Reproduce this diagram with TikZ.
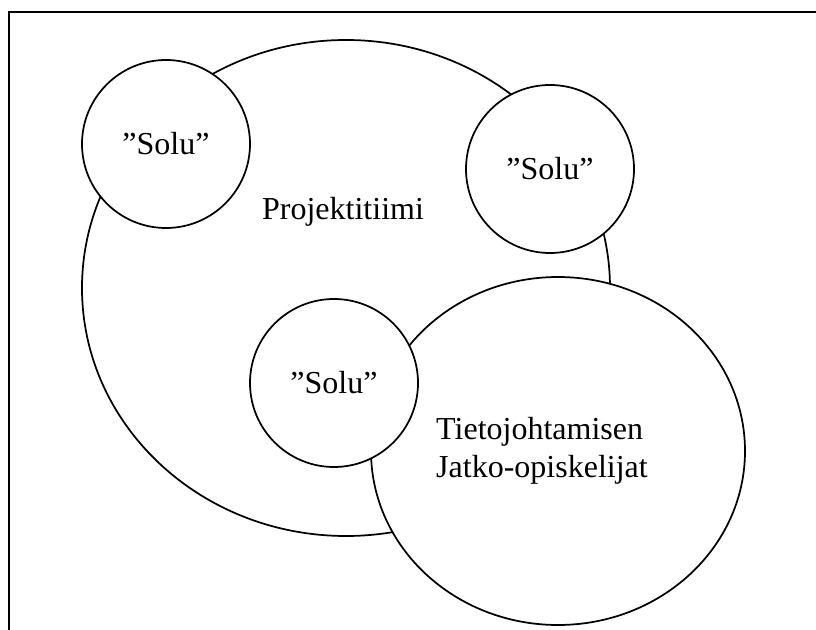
\documentclass[tikz,border=0pt]{standalone}
\usepackage{fontspec}
\setmainfont{Liberation Serif}
\usetikzlibrary{shapes.geometric}
\begin{document}
\begin{tikzpicture}[x=0.75pt,y=-0.75pt,
  ring/.style={draw=black,line width=1.3pt,fill=white,inner sep=0pt,outer sep=0pt},
  solu/.style={ring,circle,minimum size=126pt},
  lbl/.style={font=\fontsize{24pt}{28.5pt}\selectfont,inner sep=0pt}]
\useasboundingbox (0,0) rectangle (816,630);
\clip (0,0) rectangle (816,630);
\fill[white] (0,0) rectangle (816,630);
\draw[line width=1.5pt] (9,650) -- (9,12) -- (840,12);
\node[ring,ellipse,minimum width=396pt,minimum height=372pt] (proj) at (346,288) {};
\node[lbl] (projlbl) at (343,212) {Projektitiimi};
\node[solu,lbl] (solu1) at (166,144) {”Solu”};
\node[solu,lbl] (solu2) at (550,169) {”Solu”};
\node[ring,ellipse,minimum width=280.5pt,minimum height=261pt] (tieto) at (558,451) {};
\node[lbl,align=left] (tietolbl) at (542,451) {Tietojohtamisen\\Jatko-opiskelijat};
\node[solu,lbl] (solu3) at (334,383) {”Solu”};
\end{tikzpicture}
\end{document}
